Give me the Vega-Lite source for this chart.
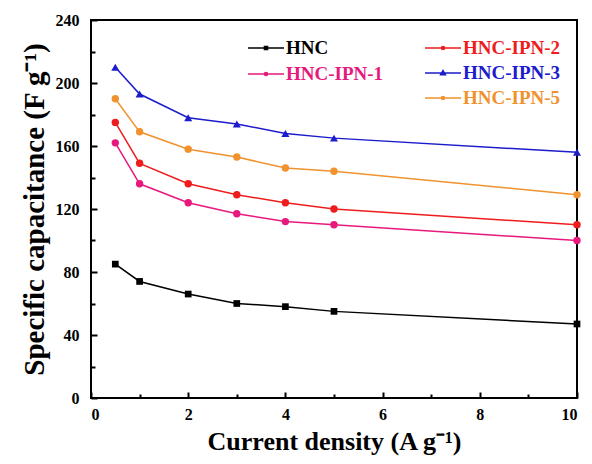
{
  "$schema": "https://vega.github.io/schema/vega-lite/v6.json",
  "width": 486,
  "height": 378,
  "autosize": "none",
  "padding": {"left": 91, "top": 20, "right": 15, "bottom": 66},
  "background": "white",
  "config": {
    "view": {"stroke": "black", "strokeWidth": 2},
    "font": "Liberation Serif",
    "legend": {"labelFont": "Liberation Serif"},
    "axis": {
      "domain": false, "offset": -6, "tickColor": "black", "tickWidth": 2, "ticks": true, "tickSize": 6,
      "labelFont": "Liberation Serif", "labelFontWeight": "bold", "labelFontSize": 16, "labelColor": "black",
      "titleFont": "Liberation Serif", "titleFontWeight": "bold", "titleColor": "black",
      "grid": false
    }
  },
  "data": {"values": [
    {"series": "HNC", "g": 1, "x": 0.5, "y": 85}, {"series": "HNC", "g": 1, "x": 1, "y": 74}, {"series": "HNC", "g": 1, "x": 2, "y": 66}, {"series": "HNC", "g": 1, "x": 3, "y": 60}, {"series": "HNC", "g": 1, "x": 4, "y": 58}, {"series": "HNC", "g": 1, "x": 5, "y": 55}, {"series": "HNC", "g": 1, "x": 10, "y": 47},
    {"series": "HNC-IPN-1", "g": 1, "x": 0.5, "y": 162}, {"series": "HNC-IPN-1", "g": 1, "x": 1, "y": 136}, {"series": "HNC-IPN-1", "g": 1, "x": 2, "y": 124}, {"series": "HNC-IPN-1", "g": 1, "x": 3, "y": 117}, {"series": "HNC-IPN-1", "g": 1, "x": 4, "y": 112}, {"series": "HNC-IPN-1", "g": 1, "x": 5, "y": 110}, {"series": "HNC-IPN-1", "g": 1, "x": 10, "y": 100},
    {"series": "HNC-IPN-2", "g": 2, "x": 0.5, "y": 175}, {"series": "HNC-IPN-2", "g": 2, "x": 1, "y": 149}, {"series": "HNC-IPN-2", "g": 2, "x": 2, "y": 136}, {"series": "HNC-IPN-2", "g": 2, "x": 3, "y": 129}, {"series": "HNC-IPN-2", "g": 2, "x": 4, "y": 124}, {"series": "HNC-IPN-2", "g": 2, "x": 5, "y": 120}, {"series": "HNC-IPN-2", "g": 2, "x": 10, "y": 110},
    {"series": "HNC-IPN-3", "g": 2, "x": 0.5, "y": 210}, {"series": "HNC-IPN-3", "g": 2, "x": 1, "y": 193}, {"series": "HNC-IPN-3", "g": 2, "x": 2, "y": 178}, {"series": "HNC-IPN-3", "g": 2, "x": 3, "y": 174}, {"series": "HNC-IPN-3", "g": 2, "x": 4, "y": 168}, {"series": "HNC-IPN-3", "g": 2, "x": 5, "y": 165}, {"series": "HNC-IPN-3", "g": 2, "x": 10, "y": 156},
    {"series": "HNC-IPN-5", "g": 2, "x": 0.5, "y": 190}, {"series": "HNC-IPN-5", "g": 2, "x": 1, "y": 169}, {"series": "HNC-IPN-5", "g": 2, "x": 2, "y": 158}, {"series": "HNC-IPN-5", "g": 2, "x": 3, "y": 153}, {"series": "HNC-IPN-5", "g": 2, "x": 4, "y": 146}, {"series": "HNC-IPN-5", "g": 2, "x": 5, "y": 144}, {"series": "HNC-IPN-5", "g": 2, "x": 10, "y": 129}
  ]},
  "encoding": {
    "x": {"field": "x", "type": "quantitative", "scale": {"domain": [0, 10], "nice": false},
      "axis": {"title": "Current density (A g⁻¹)", "titleFontSize": 26, "values": [0,1,2,3,4,5,6,7,8,9,10],
        "labelExpr": "datum.value % 2 === 0 ? datum.label : ''",
        "tickDash": {"condition": {"test": "datum.value % 2 === 0", "value": []}, "value": [0, 2, 4, 0]},
        "labelPadding": 8, "titlePadding": 6}},
    "y": {"field": "y", "type": "quantitative", "scale": {"domain": [0, 240], "nice": false},
      "axis": {"title": "Specific capacitance (F g⁻¹)", "titleFontSize": 29, "values": [0,20,40,60,80,100,120,140,160,180,200,220,240],
        "labelExpr": "datum.value % 40 === 0 ? datum.label : ''",
        "tickDash": {"condition": {"test": "datum.value % 40 === 0", "value": []}, "value": [0, 2, 4, 0]},
        "labelPadding": 12, "titlePadding": 6}}
  },
  "layer": [
    {
      "transform": [{"filter": "datum.g === 1"}],
      "encoding": {
        "color": {"field": "series", "type": "nominal",
          "scale": {"domain": ["HNC", "HNC-IPN-1"], "range": ["#000000", "#e8197d"]},
          "legend": {"title": null, "orient": "none", "legendX": 156, "legendY": 15,
            "labelFont": "Liberation Serif", "labelFontWeight": "bold", "labelFontSize": 19,
            "symbolSize": 576, "labelOffset": 13, "rowPadding": 3,
            "encode": {
              "symbols": {"update": {
                "shape": {"signal": "datum.value === 'HNC' ? 'M-1,0H2M0.37,-0.13H0.63V0.13H0.37Z' : 'M-1,0H2M0.37,0A0.13,0.13,0,1,0,0.63,0A0.13,0.13,0,1,0,0.37,0Z'"},
                "fill": {"signal": "datum.value === 'HNC' ? '#000000' : '#e8197d'"},
                "stroke": {"signal": "datum.value === 'HNC' ? '#000000' : '#e8197d'"},
                "strokeWidth": {"value": 1.5}, "opacity": {"value": 1}}},
              "labels": {"update": {"fill": {"signal": "datum.value === 'HNC' ? '#000000' : '#e8197d'"}}}
            }}}
      },
      "layer": [
        {"mark": {"type": "line", "strokeWidth": 1.5}, "encoding": {}},
        {"transform": [{"filter": "datum.series === 'HNC'"}],
          "mark": {"type": "point", "shape": "square", "filled": true, "opacity": 1, "size": 45}},
        {"transform": [{"filter": "datum.series !== 'HNC'"}],
          "mark": {"type": "point", "shape": "circle", "filled": true, "opacity": 1, "size": 55}}
      ]
    },
    {
      "transform": [{"filter": "datum.g === 2"}],
      "encoding": {
        "color": {"field": "series", "type": "nominal",
          "scale": {"domain": ["HNC-IPN-2", "HNC-IPN-3", "HNC-IPN-5"], "range": ["#ee1c1c", "#1c1ccc", "#f0922e"]},
          "legend": {"title": null, "orient": "none", "legendX": 333, "legendY": 15,
            "labelFont": "Liberation Serif", "labelFontWeight": "bold", "labelFontSize": 19,
            "symbolSize": 576, "labelOffset": 13, "rowPadding": 2,
            "encode": {
              "symbols": {"update": {
                "shape": {"signal": "datum.value === 'HNC-IPN-3' ? 'M-1,0H2M0.5,-0.2L0.7,0.14H0.3Z' : 'M-1,0H2M0.37,0A0.13,0.13,0,1,0,0.63,0A0.13,0.13,0,1,0,0.37,0Z'"},
                "fill": {"signal": "datum.value === 'HNC-IPN-2' ? '#ee1c1c' : datum.value === 'HNC-IPN-3' ? '#1c1ccc' : '#f0922e'"},
                "stroke": {"signal": "datum.value === 'HNC-IPN-2' ? '#ee1c1c' : datum.value === 'HNC-IPN-3' ? '#1c1ccc' : '#f0922e'"},
                "strokeWidth": {"value": 1.5}, "opacity": {"value": 1}}},
              "labels": {"update": {"fill": {"signal": "datum.value === 'HNC-IPN-2' ? '#ee1c1c' : datum.value === 'HNC-IPN-3' ? '#1c1ccc' : '#f0922e'"}}}
            }}}
      },
      "layer": [
        {"mark": {"type": "line", "strokeWidth": 1.5}, "encoding": {}},
        {"transform": [{"filter": "datum.series === 'HNC-IPN-3'"}],
          "mark": {"type": "point", "shape": "triangle-up", "filled": true, "opacity": 1, "size": 65}},
        {"transform": [{"filter": "datum.series !== 'HNC-IPN-3'"}],
          "mark": {"type": "point", "shape": "circle", "filled": true, "opacity": 1, "size": 55}}
      ]
    }
  ],
  "resolve": {"scale": {"color": "independent"}}
}
